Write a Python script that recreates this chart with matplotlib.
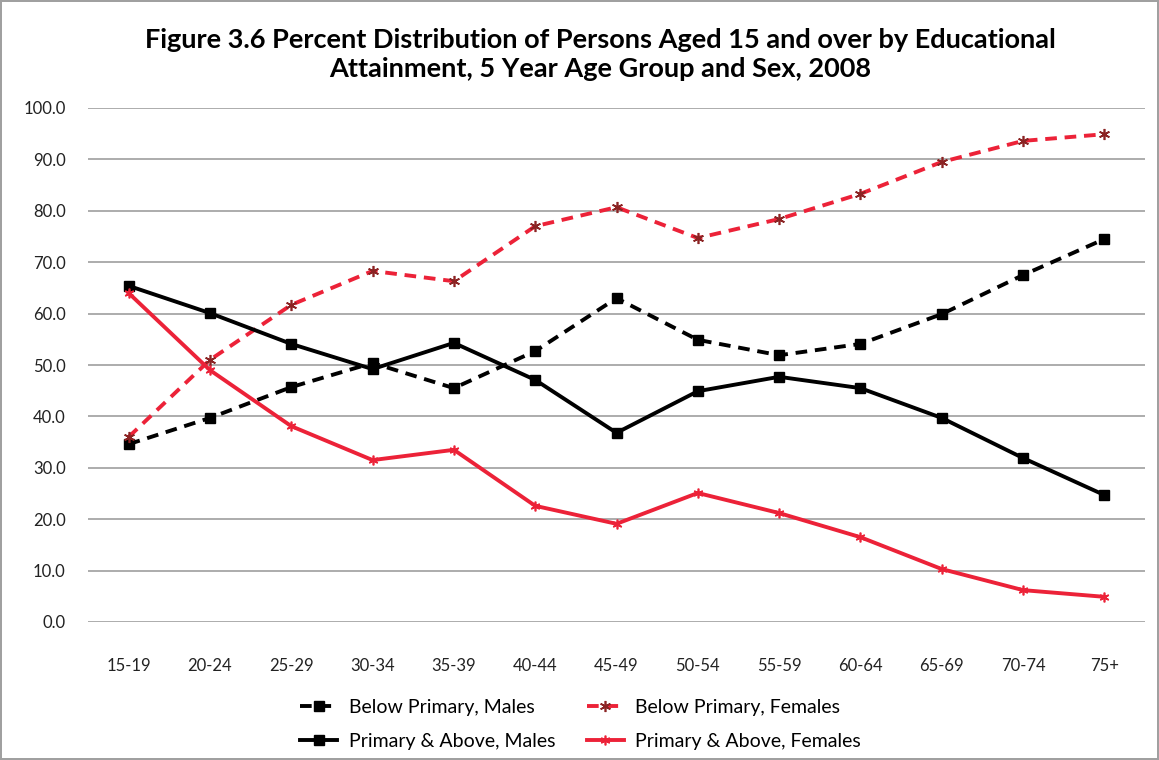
import numpy as np
import matplotlib
matplotlib.use('Agg')
import matplotlib.pyplot as plt

age_groups = ['15-19', '20-24', '25-29', '30-34', '35-39', '40-44', '45-49',
              '50-54', '55-59', '60-64', '65-69', '70-74', '75+']

below_males = [34.6, 39.7, 45.7, 50.4, 45.5, 52.7, 63.0, 54.9, 51.9, 54.1, 59.9, 67.5, 74.5]
below_females = [36.0, 51.0, 61.7, 68.3, 66.3, 77.0, 80.7, 74.7, 78.4, 83.3, 89.5, 93.6, 94.9]
primary_males = [65.4, 60.1, 54.1, 49.2, 54.3, 47.1, 36.8, 44.9, 47.7, 45.5, 39.7, 31.9, 24.7]
primary_females = [64.0, 49.0, 38.1, 31.5, 33.5, 22.6, 19.1, 25.1, 21.2, 16.5, 10.3, 6.2, 4.9]

plt.rcParams['font.family'] = ['Lato', 'DejaVu Sans']

RED = '#ec2238'
DARKRED = '#8b2323'
ASTER = (6, 2, 0)

fig = plt.figure(figsize=(11.59, 7.60), dpi=100)
fig.patch.set_edgecolor('#a0a0a0')
fig.patch.set_linewidth(1.5)
ax = fig.add_axes([88 / 1159, 1 - 622 / 760, (1145 - 88) / 1159, (622 - 108) / 760])

x = np.arange(len(age_groups))
ax.plot(x, below_males, color='black', lw=2.8, ls=(0, (3, 2)), marker='s', ms=7,
        label='Below Primary, Males')
ax.plot(x, below_females, color=RED, lw=2.8, ls=(0, (3, 2)), marker=ASTER, ms=8,
        mec=DARKRED, mfc=DARKRED, mew=1.2, label='Below Primary, Females')
ax.plot(x, primary_males, color='black', lw=2.8, marker='s', ms=7,
        label='Primary & Above, Males')
ax.plot(x, primary_females, color=RED, lw=2.8, marker=ASTER, ms=7, mew=1.2,
        label='Primary & Above, Females')

ax.set_xlim(-0.5, len(age_groups) - 0.5)
ax.set_ylim(0, 100)
ax.set_yticks(np.arange(0, 101, 10))
ax.set_yticklabels(['%.1f' % v for v in np.arange(0, 101, 10)])
ax.set_xticks(x)
ax.set_xticklabels(age_groups)
ax.tick_params(length=0, labelsize=12, colors='#222222')
ax.tick_params(axis='x', pad=26)
ax.tick_params(axis='y', pad=16)
ax.grid(axis='y', color='#a6a6a6', lw=1.3)
ax.set_axisbelow(True)
for s in ax.spines.values():
    s.set_visible(False)

fig.text(0.518, 0.928, 'Figure 3.6 Percent Distribution of Persons Aged 15 and over by Educational\n'
         'Attainment, 5 Year Age Group and Sex, 2008',
         ha='center', va='center', fontsize=19.5, fontweight='bold', linespacing=1.25)

handles, labels = ax.get_legend_handles_labels()
order = [0, 2, 1, 3]
fig.legend([handles[i] for i in order], [labels[i] for i in order], ncol=2,
           loc='center', bbox_to_anchor=(0.501, 0.047), frameon=False,
           fontsize=14, handlelength=1.9, columnspacing=1.6, labelspacing=0.85,
           handletextpad=0.6)

fig.savefig('out.png', dpi=100, edgecolor=fig.get_edgecolor())
